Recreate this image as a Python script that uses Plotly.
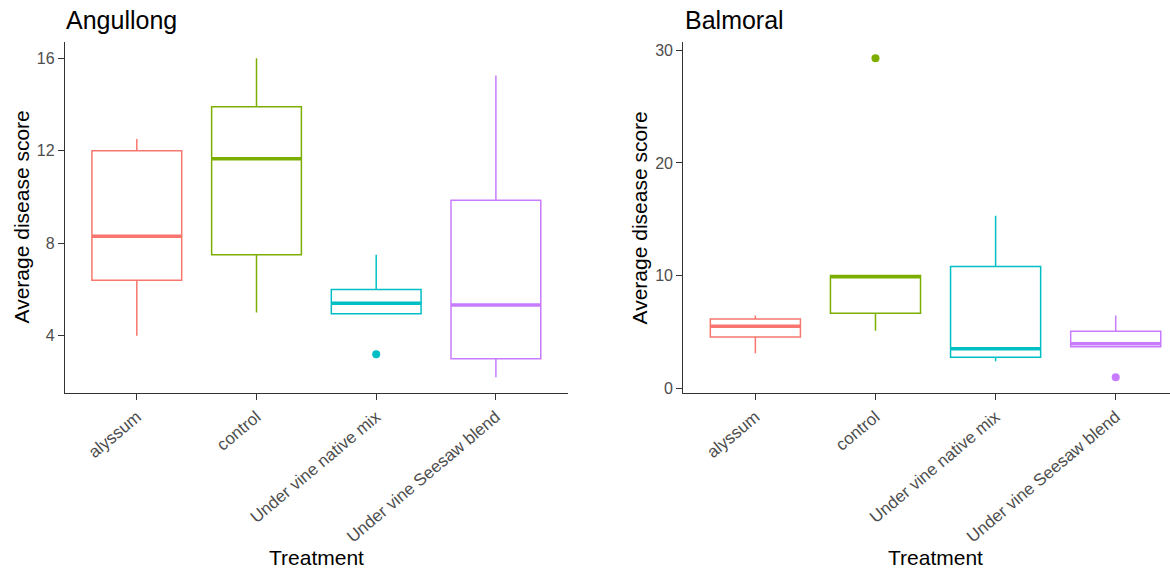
import plotly.graph_objects as go

W, H = 1170, 571

categories = ["alyssum", "control", "Under vine native mix", "Under vine Seesaw blend"]
colors = ["#F8766D", "#7CAE00", "#00BFC4", "#C77CFF"]

# Angullong box stats
ang_lower = [4.0, 5.0, 4.95, 2.2]
ang_q1 = [6.4, 7.5, 4.95, 3.0]
ang_median = [8.3, 11.65, 5.4, 5.33]
ang_q3 = [12.0, 13.9, 6.0, 9.85]
ang_upper = [12.5, 16.0, 7.5, 15.25]
ang_out_cat = ["Under vine native mix"]
ang_out_val = [3.2]

# Balmoral box stats
bal_lower = [3.1, 5.1, 2.4, 3.67]
bal_q1 = [4.55, 6.65, 2.75, 3.67]
bal_median = [5.5, 9.9, 3.5, 3.95]
bal_q3 = [6.15, 10.0, 10.8, 5.05]
bal_upper = [6.45, 10.0, 15.3, 6.45]
bal_out_cat = ["control", "Under vine Seesaw blend"]
bal_out_val = [29.3, 0.97]

FONT = "Liberation Sans, Arial, sans-serif"

fig = go.Figure()


def add_panel(xa, ya, lower, q1, med, q3, upper, out_cat, out_val):
    for i, c in enumerate(categories):
        fig.add_trace(go.Box(
            x=[c], q1=[q1[i]], median=[med[i]], q3=[q3[i]],
            lowerfence=[lower[i]], upperfence=[upper[i]],
            width=0.75, whiskerwidth=0, boxpoints=False,
            line=dict(color=colors[i], width=1.5), fillcolor="white",
            xaxis=xa, yaxis=ya, showlegend=False, hoverinfo="skip"))
        # thick median line as degenerate box
        fig.add_trace(go.Box(
            x=[c], q1=[med[i]], median=[med[i]], q3=[med[i]],
            lowerfence=[med[i]], upperfence=[med[i]],
            width=0.75, whiskerwidth=0, boxpoints=False,
            line=dict(color=colors[i], width=3.5), fillcolor="rgba(0,0,0,0)",
            xaxis=xa, yaxis=ya, showlegend=False, hoverinfo="skip"))
    fig.add_trace(go.Scatter(
        x=out_cat, y=out_val, mode="markers",
        marker=dict(size=8, color=[colors[categories.index(c)] for c in out_cat]),
        xaxis=xa, yaxis=ya, showlegend=False, hoverinfo="skip"))


add_panel("x", "y", ang_lower, ang_q1, ang_median, ang_q3, ang_upper, ang_out_cat, ang_out_val)
add_panel("x2", "y2", bal_lower, bal_q1, bal_median, bal_q3, bal_upper, bal_out_cat, bal_out_val)

top_px, bot_px = 42.5, 396.0
ydom = [1 - bot_px / H, 1 - top_px / H]

axis_common = dict(showline=True, linecolor="#333333", linewidth=1.3,
                   ticks="outside", ticklen=6, tickcolor="#333333", tickwidth=1.2,
                   showgrid=False, zeroline=False)
yfont = dict(family=FONT, size=16, color="#4D4D4D")
xfont = dict(family=FONT, size=17, color="#4D4D4D")

fig.update_layout(
    width=W, height=H, margin=dict(l=0, r=0, t=0, b=0),
    paper_bgcolor="white", plot_bgcolor="white",
    boxmode="overlay",
    xaxis=dict(domain=[65 / W, 567.7 / W], type="category",
               categoryorder="array", categoryarray=categories,
               range=[-0.6, 3.6], tickangle=-40, anchor="y", tickfont=xfont, **axis_common),
    yaxis=dict(domain=ydom, range=[1.51, 16.69], tickvals=[4, 8, 12, 16],
               anchor="x", tickfont=yfont, **axis_common),
    xaxis2=dict(domain=[683.3 / W, 1.0], type="category",
                categoryorder="array", categoryarray=categories,
                range=[-0.6, 3.452], tickangle=-40, anchor="y2", tickfont=xfont, **axis_common),
    yaxis2=dict(domain=ydom, range=[-0.45, 30.72], tickvals=[0, 10, 20, 30],
                anchor="x2", tickfont=yfont, **axis_common),
)


def ann(text, xpx, ypx, size, xanchor="center", angle=0):
    fig.add_annotation(text=text, xref="paper", yref="paper",
                       x=xpx / W, y=1 - ypx / H, xanchor=xanchor, yanchor="middle",
                       showarrow=False, textangle=angle,
                       font=dict(family=FONT, size=size, color="black"))


ann("Angullong", 64, 20, 25, xanchor="left")
ann("Balmoral", 683, 20, 25, xanchor="left")
ann("Treatment", 316.5, 561, 21)
ann("Treatment", 935.5, 561, 21)
ann("Average disease score", 21, 219, 21, angle=-90)
ann("Average disease score", 639, 219, 21, angle=-90)

fig.write_html("out.html")
